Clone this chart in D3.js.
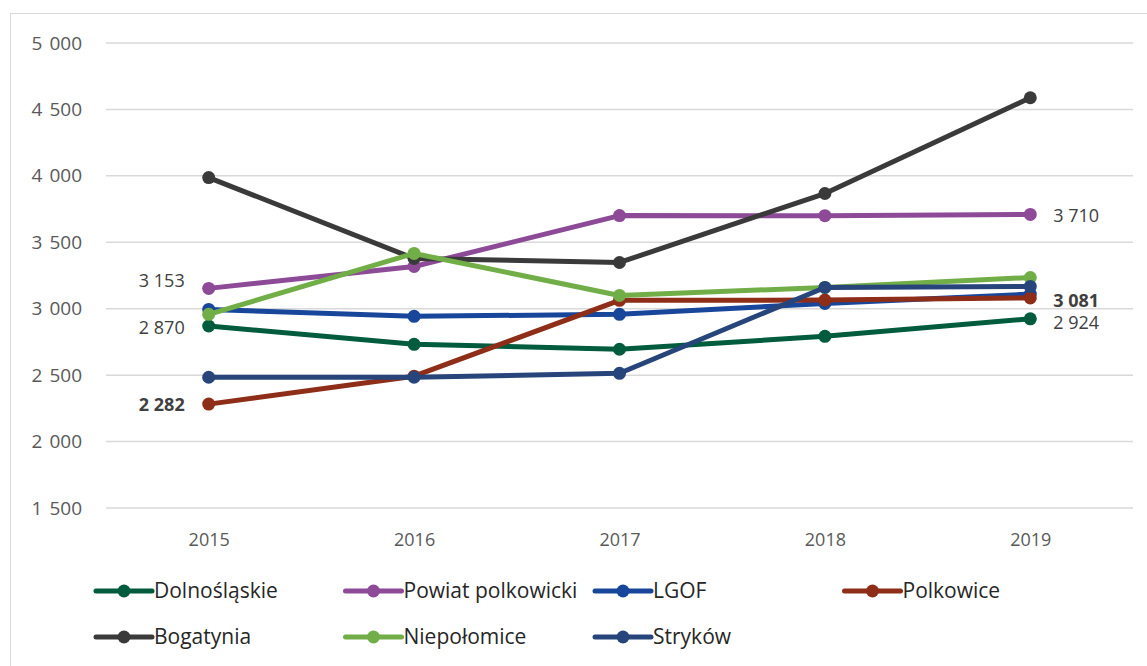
<!DOCTYPE html>
<html>
<head>
<meta charset="utf-8">
<script src="https://cdn.jsdelivr.net/npm/d3@7"></script>
<style>
  body { margin: 0; background: #fff; }
  text { font-family: "Open Sans", "DejaVu Sans", sans-serif; }
</style>
</head>
<body>
<svg id="chart" width="1147" height="666"></svg>
<script>
// data
const years = ["2015", "2016", "2017", "2018", "2019"];
const yTicks = [1500, 2000, 2500, 3000, 3500, 4000, 4500, 5000];

const seriesNames = ["Dolnośląskie", "Powiat polkowicki", "LGOF", "Polkowice", "Bogatynia", "Niepołomice", "Stryków"];
const dolnoslaskie = [2870, 2732, 2695, 2792, 2924];
const powiatPolkowicki = [3153, 3318, 3701, 3700, 3710];
const lgof = [2995, 2943, 2958, 3040, 3110];
const polkowice = [2282, 2492, 3063, 3065, 3081];
const bogatynia = [3987, 3378, 3348, 3867, 4588];
const niepolomice = [2958, 3416, 3100, 3160, 3235];
const strykow = [2484, 2484, 2514, 3160, 3168];
const seriesValues = [dolnoslaskie, powiatPolkowicki, lgof, polkowice, bogatynia, niepolomice, strykow];
const seriesColors = ["#005C3C", "#8C4A97", "#18469A", "#8E2E18", "#3A3A3A", "#72AE48", "#27457A"];

// labels shown on the chart: [series index, year index, side, bold]
const pointLabels = [
  [1, 0, "left", false],
  [0, 0, "left", false],
  [3, 0, "left", true],
  [1, 4, "right", false],
  [3, 4, "right", true],
  [0, 4, "right", false]
];

const svg = d3.select("#chart");
const plot = {left: 106, right: 1133, top: 43, bottom: 508};

// outer frame
svg.append("rect")
  .attr("x", 10.5).attr("y", 13.5)
  .attr("width", 1150).attr("height", 700)
  .attr("fill", "none")
  .attr("stroke", "#d9d9d9")
  .attr("stroke-width", 1);

const x = d3.scalePoint()
  .domain(years)
  .range([plot.left, plot.right])
  .padding(0.5);

const y = d3.scaleLinear()
  .domain([1500, 5000])
  .range([plot.bottom, plot.top]);

const fmt = v => d3.format(",")(v).replace(/,/g, " ");

// gridlines
svg.append("g")
  .selectAll("line")
  .data(yTicks)
  .enter()
  .append("line")
  .attr("x1", plot.left).attr("x2", plot.right)
  .attr("y1", d => y(d)).attr("y2", d => y(d))
  .attr("stroke", "#d9d9d9")
  .attr("stroke-width", 1.5);

// y axis
const yAxis = svg.append("g")
  .attr("transform", "translate(" + (plot.left - 24) + ",0)")
  .call(d3.axisLeft(y).tickValues(yTicks).tickSize(0).tickPadding(0).tickFormat(fmt));
yAxis.select(".domain").remove();
yAxis.selectAll("text")
  .attr("fill", "#595959")
  .style("font-size", "19px")
  .style("word-spacing", "2px");

// x axis
const xAxis = svg.append("g")
  .attr("transform", "translate(0," + (plot.bottom + 25) + ")")
  .call(d3.axisBottom(x).tickSize(0).tickPadding(0));
xAxis.select(".domain").remove();
xAxis.selectAll("text")
  .attr("fill", "#595959")
  .style("font-size", "18px");

// lines and markers
const line = d3.line()
  .x((d, i) => x(years[i]))
  .y(d => y(d));

const seriesG = svg.append("g");
seriesValues.forEach(function (vals, s) {
  const g = seriesG.append("g");
  g.append("path")
    .datum(vals)
    .attr("d", line)
    .attr("fill", "none")
    .attr("stroke", seriesColors[s])
    .attr("stroke-width", 5)
    .attr("stroke-linejoin", "round");
  g.selectAll("circle")
    .data(vals)
    .enter()
    .append("circle")
    .attr("cx", (d, i) => x(years[i]))
    .attr("cy", d => y(d))
    .attr("r", 6.5)
    .attr("fill", seriesColors[s]);
});

// data labels
svg.append("g")
  .selectAll("text")
  .data(pointLabels)
  .enter()
  .append("text")
  .attr("x", d => d[2] === "left" ? x(years[d[1]]) - 24 : x(years[d[1]]) + 23)
  .attr("y", d => y(seriesValues[d[0]][d[1]]))
  .attr("dy", d => {
    // small vertical nudges like in the original
    if (d[0] === 1 && d[2] === "left") return "-0.05em";
    if (d[0] === 0 && d[2] === "left") return "0.45em";
    if (d[0] === 3 && d[2] === "left") return "0.4em";
    if (d[0] === 3 && d[2] === "right") return "0.5em";
    if (d[0] === 0 && d[2] === "right") return "0.55em";
    return "0.4em";
  })
  .attr("text-anchor", d => d[2] === "left" ? "end" : "start")
  .attr("fill", "#404040")
  .style("font-size", "18px")
  .style("font-weight", d => d[3] ? "bold" : "normal")
  .text(d => fmt(seriesValues[d[0]][d[1]]));

// legend
const legend = svg.append("g");
const legendItems = legend.selectAll("g")
  .data(seriesNames)
  .enter()
  .append("g")
  .attr("transform", (d, i) => "translate(" + (96 + (i % 4) * 249.5) + "," + (591 + Math.floor(i / 4) * 46) + ")");
legendItems.append("line")
  .attr("x1", 0).attr("x2", 56)
  .attr("y1", 0).attr("y2", 0)
  .attr("stroke", (d, i) => seriesColors[i])
  .attr("stroke-width", 5)
  .attr("stroke-linecap", "round");
legendItems.append("circle")
  .attr("cx", 28).attr("cy", 0).attr("r", 6.5)
  .attr("fill", (d, i) => seriesColors[i]);
legendItems.append("text")
  .attr("x", 58)
  .attr("y", 0)
  .attr("dy", "0.35em")
  .attr("fill", "#262626")
  .style("font-size", "21px")
  .text(d => d);
</script>
</body>
</html>
